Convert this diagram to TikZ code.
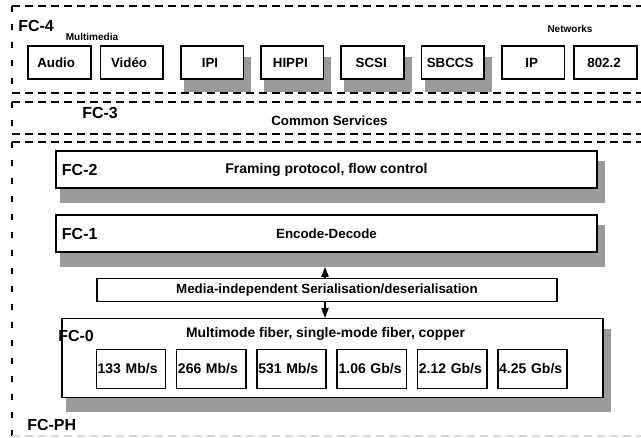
\documentclass[tikz,border=0pt]{standalone}
\usepackage{fontspec}
\setmainfont{Liberation Sans}
\usetikzlibrary{backgrounds,positioning,calc,arrows.meta}
\definecolor{shadowgray}{gray}{0.6}

\begin{document}
\begin{tikzpicture}[x=0.75pt,y=-0.75pt,font=\bfseries]
\tikzstyle{every node}=[inner sep=0pt]
\tikzstyle{svcbox}=[draw,line width=1.2pt,fill=white,minimum width=47pt,minimum height=25pt,font=\fontsize{10}{11}\bfseries]
\tikzstyle{layerbox}=[draw,line width=1.2pt,fill=white,minimum width=406pt,minimum height=28pt]
\tikzstyle{ratebox}=[draw,line width=1.2pt,fill=white,text width=50pt,minimum height=29pt,inner xsep=1pt,align=left,font=\fontsize{10.5}{12}\bfseries]
\tikzstyle{fclabel}=[anchor=west,font=\fontsize{12}{14}\bfseries]
\tikzstyle{grouplabel}=[font=\fontsize{7.5}{9}\bfseries]
\tikzstyle{hline}=[line width=1.5pt,dash pattern=on 6pt off 3.75pt]
\tikzstyle{vline}=[line width=1.5pt,dash pattern=on 4.5pt off 9pt]
\tikzstyle{shadowfill}=[fill=shadowgray]
\tikzstyle{link}=[line width=1pt,-{Triangle[length=7.5pt,width=5.5pt]}]
\useasboundingbox (0,0) rectangle (641,437);
\clip (0,0) rectangle (641,437);

% FC-4 layer
\draw[hline] (12,6) -- (660,6);
\draw[hline] (12,93) -- (660,93);
\draw[vline] (12,6) -- (12,93);
\node[fclabel] (fc4label) at (18,26) {FC-4};
\node[grouplabel] (multimedia) at (92,37) {Multimedia};
\node[grouplabel] (networks) at (570,29) {Networks};
\node[svcbox] (audio) at (59.5,62.5) {\hspace*{-5pt}\raisebox{-1.5pt}{Audio}};
\node[svcbox, right=6pt of audio] (video) {\hspace*{-4pt}\raisebox{-1.5pt}{Vidéo}};
\node[svcbox, right=12pt of video] (ipi) {\hspace*{-3pt}\raisebox{-1.5pt}{IPI}};
\node[svcbox, right=12pt of ipi] (hippi) {\hspace*{-3pt}\raisebox{-1.5pt}{HIPPI}};
\node[svcbox, right=12pt of hippi] (scsi) {\hspace*{-2pt}\raisebox{-1.5pt}{SCSI}};
\node[svcbox, right=12pt of scsi] (sbccs) {\hspace*{-4pt}\raisebox{-1.5pt}{SBCCS}};
\node[svcbox, right=12pt of sbccs] (ip) {\hspace*{-2pt}\raisebox{-1.5pt}{IP}};
\node[svcbox, right=6pt of ip] (ieee) {\hspace*{-2pt}\raisebox{-1.5pt}{802.2}};

% FC-3 layer
\draw[hline] (12,102) -- (660,102);
\draw[hline] (12,134) -- (660,134);
\draw[vline] (12,102) -- (12,134);
\node[fclabel] (fc3label) at (82,113) {FC-3};
\node[font=\fontsize{10}{12}\bfseries] (common) at (329.5,121) {Common Services};

% FC-PH
\draw[hline] (12,142) -- (660,142);
\draw[vline] (12,142) -- (12,437);
\draw[hline,gray!30] (12,436) -- (660,436);
\node[fclabel] (fcphlabel) at (27,425) {FC-PH};

\node[layerbox,font=\fontsize{10.5}{12}\bfseries] (fc2) at (326.5,169.5) {Framing protocol, flow control};
\node[fclabel, right=5pt of fc2.west] (fc2label) {FC-2};
\node[layerbox,font=\fontsize{10}{12}\bfseries] (fc1) at (326.5,233.5) {\raisebox{-2pt}{Encode-Decode}};
\node[fclabel, right=5pt of fc1.west] (fc1label) {FC-1};
\node[layerbox,minimum width=345pt,minimum height=17pt,font=\fontsize{10}{12}\bfseries] (media) at (327,290) {Media-independent Serialisation/deserialisation};
\node[layerbox,minimum height=59pt] (fc0) at (332.5,358) {};
\node[fclabel] (fc0label) at ($(fc0.north west)+(-3,18)$) {FC-0};
\node[font=\fontsize{10.4}{12}\bfseries] (medium) at ($(fc0.north)+(-7,16)$) {Multimode fiber, single-mode fiber, copper};
\foreach \r [count=\i] in {133 Mb/s,266 Mb/s,531 Mb/s,1.06 Gb/s,2.12 Gb/s,4.25 Gb/s}
  \node[ratebox] (rate\i) at ({131+80.3*(\i-1)},369) {\r};

% links between FC-1, serialisation and FC-0
\coordinate (linkx) at (325,0);
\draw[link] (media.north -| linkx) -- ($(fc1.south -| linkx)+(0,14)$);
\draw[link] (media.south -| linkx) -- (fc0.north -| linkx);

\begin{scope}[on background layer]
\foreach \b in {ipi,hippi,scsi,sbccs}
  \fill[shadowfill] ($(\b.north west)+(4,12)$) rectangle ($(\b.south east)+(7,12)$);
\foreach \b in {fc2,fc1,fc0}
  \fill[shadowfill] ($(\b.north west)+(5,11)$) rectangle ($(\b.south east)+(7,14)$);
\end{scope}
\end{tikzpicture}
\end{document}
